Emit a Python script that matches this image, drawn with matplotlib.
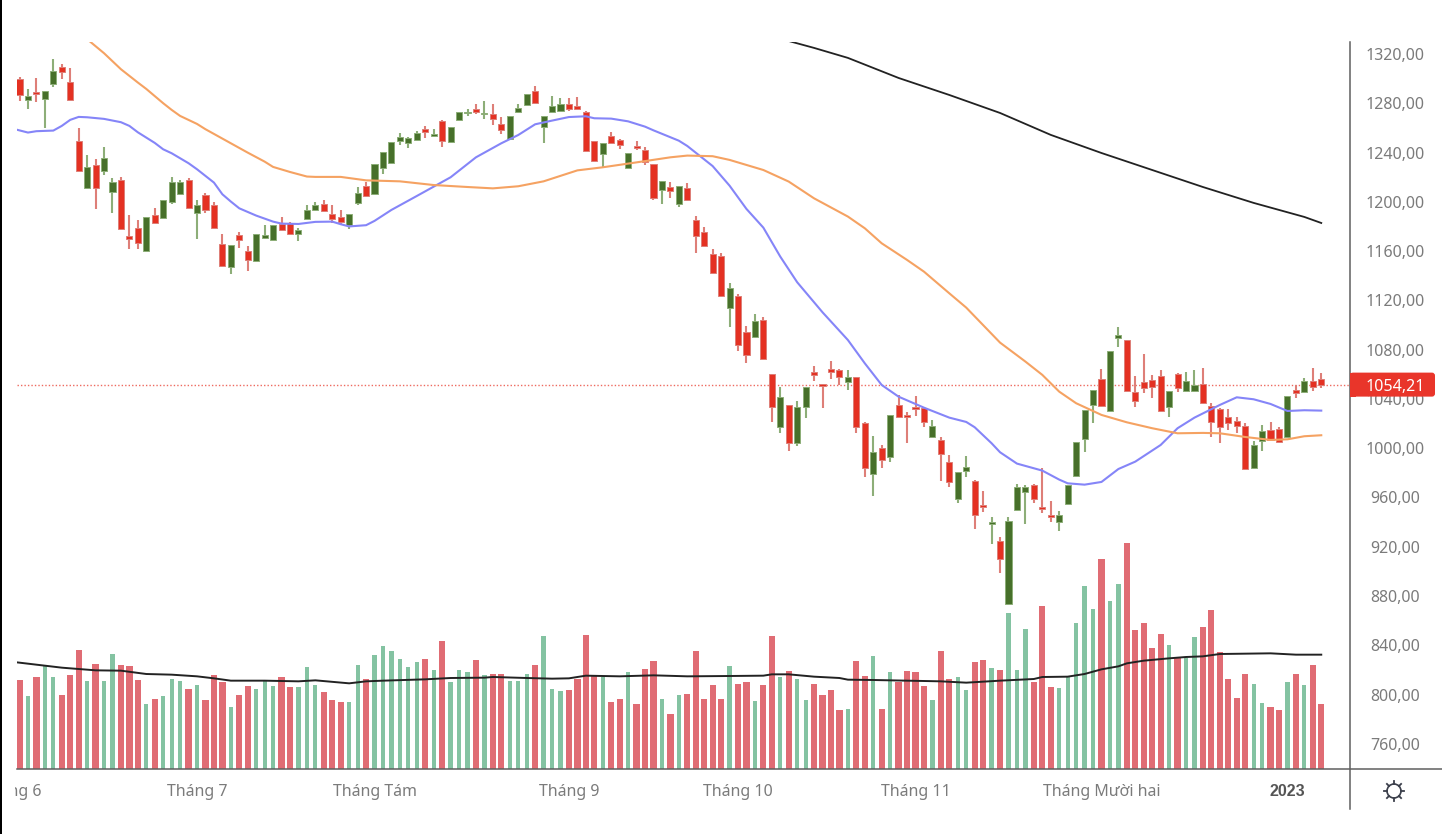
import matplotlib
matplotlib.use("Agg")
import matplotlib.pyplot as plt
from matplotlib.patches import Rectangle, Circle, FancyBboxPatch
from matplotlib.lines import Line2D
from matplotlib.transforms import Bbox, IdentityTransform, TransformedBbox
import numpy as np

# Candles, one session per entry
opens = [1299.5,1282.4,1289.5,1283.2,1295.4,1309.8,1297.3,1249.7,1211.3,1229.7,
         1224.8,1208.3,1217.5,1172.0,1179.1,1159.8,1189.1,1187.2,1200.2,1206.4,
         1217.5,1191.2,1205.3,1197.2,1165.8,1146.9,1172.8,1159.8,1151.7,1170.9,
         1169.0,1182.0,1182.8,1174.2,1186.1,1193.1,1198.3,1190.1,1187.7,1181.2,
         1199.3,1213.1,1206.6,1227.7,1231.8,1249.6,1247.7,1249.9,1259.1,1253.7,
         1265.9,1248.8,1266.1,1272.1,1275.1,1271.3,1271.0,1262.9,1251.0,1273.2,
         1278.3,1290.2,1261.0,1273.2,1274.0,1279.1,1278.0,1272.9,1249.6,1238.8,
         1253.7,1249.9,1227.7,1245.6,1241.8,1230.7,1209.6,1212.3,1198.2,1211.2,
         1185.0,1175.8,1157.7,1155.8,1113.5,1123.3,1094.1,1090.3,1103.8,1060.5,
         1017.2,1035.1,1003.9,1033.4,1061.6,1052.4,1064.6,1063.8,1053.7,1057.5,
         1020.2,978.8,999.9,992.9,1035.1,1027.2,1033.4,1032.4,1009.1,1006.9,
         988.8,958.5,981.5,973.4,953.6,938.5,925.0,873.5,949.9,964.5,
         970.4,952.0,946.1,940.4,954.5,977.7,1007.2,1035.4,1056.5,1030.0,
         1089.2,1087.9,1045.4,1053.5,1055.4,1058.4,1033.2,1060.5,1046.7,1046.5,
         1052.4,1034.0,1032.1,1025.4,1022.1,1018.0,983.7,1006.1,1014.8,1015.9,
         1009.1,1047.5,1045.4,1054.3,1056.5]
highs = [1301.6,1291.3,1300.6,1290.3,1315.7,1311.6,1308.4,1259.7,1237.8,1234.5,
         1244.8,1219.1,1220.5,1189.1,1185.0,1188.0,1195.3,1201.5,1220.5,1217.7,
         1219.4,1201.5,1206.9,1200.2,1173.9,1165.0,1175.8,1163.9,1173.9,1180.9,
         1180.9,1188.0,1183.7,1179.1,1197.2,1200.2,1201.2,1197.2,1193.4,1189.9,
         1212.3,1216.3,1230.4,1240.7,1248.8,1255.6,1252.3,1257.8,1261.8,1258.8,
         1266.4,1261.0,1273.2,1275.1,1279.4,1282.1,1279.1,1268.8,1269.9,1279.1,
         1287.5,1294.3,1269.9,1286.2,1284.0,1284.0,1285.1,1274.0,1249.6,1247.7,
         1256.9,1251.0,1239.6,1249.6,1244.8,1230.7,1217.2,1216.1,1213.1,1215.0,
         1188.8,1179.8,1161.4,1158.7,1134.4,1125.2,1099.2,1109.2,1106.2,1060.5,
         1049.4,1035.1,1038.0,1049.4,1066.7,1052.4,1070.8,1064.6,1063.5,1057.5,
         1021.3,1009.9,1002.9,1027.0,1043.2,1029.4,1042.1,1033.4,1023.2,1008.8,
         994.8,980.7,993.7,974.2,965.3,943.9,927.7,943.9,971.2,970.4,
         971.2,983.7,957.2,949.0,970.4,1004.8,1031.0,1047.3,1064.6,1078.7,
         1098.1,1087.9,1058.4,1076.8,1059.4,1063.5,1046.5,1060.8,1061.6,1063.5,
         1064.9,1037.0,1032.4,1032.1,1025.1,1020.8,1006.1,1018.9,1021.0,1017.0,
         1042.4,1051.3,1056.7,1064.9,1060.8]
lows = [1282.1,1275.4,1281.3,1260.0,1293.5,1299.5,1282.4,1224.8,1210.7,1194.5,
        1221.5,1191.2,1178.2,1162.0,1162.0,1159.8,1183.1,1186.6,1198.3,1206.4,
        1195.3,1169.9,1191.2,1179.1,1146.9,1141.4,1162.8,1143.6,1151.7,1169.9,
        1169.0,1177.2,1174.2,1167.9,1186.1,1193.1,1192.3,1183.1,1181.8,1177.7,
        1197.4,1204.4,1206.6,1222.6,1231.8,1246.1,1243.7,1249.9,1251.8,1252.9,
        1244.8,1248.8,1266.1,1269.9,1271.0,1267.0,1262.1,1254.8,1251.0,1271.8,
        1278.3,1279.9,1248.0,1273.2,1274.0,1274.0,1275.1,1241.0,1232.9,1227.7,
        1247.7,1242.9,1227.7,1241.8,1229.6,1201.5,1198.2,1203.4,1195.5,1200.4,
        1158.2,1164.1,1142.0,1123.8,1098.1,1078.9,1068.9,1090.3,1072.1,1021.3,
        1012.1,998.0,1002.0,1024.2,1054.3,1032.4,1056.4,1051.3,1047.2,1012.1,
        976.6,961.5,983.7,988.8,1025.3,1003.9,1026.4,1017.2,1009.1,973.6,
        968.5,955.5,976.6,934.2,948.5,922.0,899.0,872.5,949.3,938.5,
        955.3,947.1,940.4,933.1,954.5,977.7,997.2,1020.2,1034.3,1029.4,
        1081.9,1046.7,1033.2,1044.6,1040.5,1030.5,1025.4,1045.9,1046.7,1045.7,
        1036.5,1009.4,1004.0,1015.1,1012.1,982.9,982.9,998.0,1006.7,1005.3,
        1009.1,1040.5,1045.4,1046.5,1049.2]
closes = [1286.5,1286.2,1287.6,1290.3,1306.5,1305.4,1282.4,1224.8,1228.6,1211.3,
          1235.6,1216.4,1178.2,1169.9,1166.9,1188.0,1183.1,1201.5,1216.4,1216.4,
          1195.3,1197.2,1193.1,1179.1,1147.7,1165.0,1169.0,1152.8,1173.9,1172.8,
          1180.9,1177.2,1174.2,1176.9,1193.1,1197.2,1192.3,1186.1,1183.4,1189.9,
          1206.9,1204.4,1230.4,1240.7,1248.8,1252.9,1251.8,1255.9,1256.9,1254.8,
          1249.6,1261.0,1273.2,1273.2,1273.2,1272.1,1267.0,1258.0,1269.9,1276.2,
          1287.5,1279.9,1269.9,1278.0,1279.1,1275.1,1275.1,1241.0,1232.9,1247.7,
          1247.7,1245.8,1239.6,1243.7,1232.6,1203.1,1217.2,1208.5,1213.1,1201.2,
          1172.3,1164.1,1142.0,1123.8,1130.3,1084.1,1075.9,1103.0,1072.7,1033.4,
          1041.3,1004.2,1033.2,1049.4,1059.7,1050.2,1061.9,1057.8,1057.5,1017.2,
          983.7,996.6,990.7,1027.0,1025.3,1025.3,1031.6,1021.3,1018.0,995.0,
          972.6,980.7,984.8,945.5,952.0,940.4,910.1,940.9,968.5,968.5,
          958.5,950.4,944.2,946.1,970.4,1004.8,1031.0,1047.3,1034.3,1078.7,
          1091.9,1046.7,1038.3,1048.6,1049.4,1030.5,1046.5,1048.6,1054.6,1051.6,
          1036.5,1021.6,1017.2,1020.5,1018.3,982.9,1002.6,1014.0,1006.7,1005.3,
          1042.4,1044.6,1054.6,1049.7,1051.6]
volumes = [268,218,275,313,275,222,282,357,263,316,
           263,346,312,308,268,196,211,218,271,263,
           241,252,207,282,260,185,222,248,241,263,
           248,275,245,245,305,252,230,207,200,200,
           312,271,342,368,353,331,305,320,331,297,
           383,260,297,290,327,282,286,286,263,263,
           286,312,398,241,233,237,271,402,282,275,
           200,211,290,196,301,323,211,166,222,226,
           353,211,252,211,308,256,260,203,252,398,
           275,293,271,207,256,222,237,177,181,323,
           278,338,181,290,260,293,290,248,207,353,
           271,275,236,322,326,303,296,468,296,419,
           262,490,247,243,277,438,550,479,629,505,
           554,677,416,438,363,404,371,337,333,397,
           427,476,352,269,214,284,255,199,187,176,
           262,284,251,311,195]

# Moving averages, read at the sessions in the *_idx lists
blue_idx = [-1,1,2,4,5,6,7,8,10,12,13,14,16,17,18,20,21,23,24,25,26,28,30,31,33,35,37,38,
            39,41,42,44,47,51,54,57,59,61,63,65,67,68,70,72,74,75,78,79,
            82,84,86,88,90,92,95,98,100,102,104,107,110,112,113,115,116,118,121,123,124,
            126,128,130,132,135,137,139,142,144,146,148,150,152,154]
blue_ma = [1259.7,1256.2,1257.3,1257.8,1261.6,1266.5,1268.9,1268.6,1267.3,1264.6,1261.6,1256.4,
           1247.8,1242.6,1239.4,1231.3,1226.4,1215.6,1206.1,1200.2,1194.7,1188.8,1183.9,1182.3,
           1182.0,1183.7,1183.9,1181.8,1180.0,1181.0,1184.5,1193.4,1204.7,1219.9,1236.1,1247.5,
           1254.2,1262.9,1265.9,1268.8,1269.4,1267.8,1267.5,1265.3,1261.0,1258.0,1249.6,1245.3,
           1229.0,1213.1,1194.2,1179.0,1155.5,1134.7,1110.3,1087.8,1068.9,1051.3,1041.8,1032.9,
           1024.8,1021.3,1017.0,1004.0,996.7,987.5,981.8,974.5,971.5,970.4,972.6,983.1,989.1,
           1002.6,1016.2,1024.8,1035.1,1041.3,1039.7,1035.9,1030.2,1030.8,1030.5]
orange_idx = [8,10,12,14,15,17,18,19,21,22,24,27,29,30,32,34,35,38,41,45,49,53,56,59,62,66,69,73,77,79,
              82,84,86,88,91,94,98,100,102,105,107,110,112,116,119,121,123,125,128,131,134,137,140,
              142,145,148,150,152,154]
orange_ma = [1332.0,1320.6,1307.6,1296.8,1291.6,1280.0,1274.6,1269.7,1263.2,1258.9,1251.3,1239.9,1232.6,
             1228.3,1224.2,1220.5,1220.2,1220.2,1217.4,
             1216.6,1213.6,1212.0,1210.9,1212.6,1216.6,1225.5,1228.0,1232.0,1236.1,1237.5,
             1237.0,1234.0,1229.9,1225.8,1216.4,1202.8,1188.0,1178.5,1166.3,1152.8,1143.3,1125.7,
             1114.1,1085.7,1070.3,1059.5,1045.9,1036.5,1027.0,1021.0,1016.2,1012.1,1012.4,
             1012.1,1009.1,1006.7,1007.2,1009.7,1010.5]
long_idx = [91,94,98,104,110,116,122,128,134,140,146,152,154]
long_ma = [1330.5,1324.9,1316.8,1300.5,1286.7,1272.1,1254.3,1239.6,1225.8,1212.0,1199.1,1187.7,1182.8]
vol_ma_idx = [-1,2,5,9,12,15,18,21,23,25,29,33,35,39,41,43,48,51,55,
              56,60,63,65,67,71,75,79,84,88,89,91,94,97,98,101,105,109,
              112,116,120,121,124,126,128,130,131,133,136,138,140,142,145,148,151,154]
vol_ma = [322,313,304,296,295,285,283,278,272,265,265,263,266,257,263,265,269,273,274,
          276,273,271,272,280,278,281,278,279,280,284,284,277,273,268,267,265,263,
          259,265,270,276,277,285,299,308,317,325,332,336,338,345,346,347,343,343]

y_ticks = list(range(760, 1321, 40))
y_labels = ["%d,00" % v for v in y_ticks]
month_idx = [-1, 21, 42, 65, 85, 106, 128, 150]
month_labels = ["Tháng 6", "Tháng 7", "Tháng Tám", "Tháng 9", "Tháng 10", "Tháng 11", "Tháng Mười hai", "2023"]
last_label = "1054,21"

W, H = 1442, 834
plt.rcParams["font.family"] = ["Noto Sans", "DejaVu Sans"]
fig = plt.figure(figsize=(W / 100, H / 100), dpi=100, facecolor="white")

# plot area in pixels: x 17..1350, y 42..769
ax = fig.add_axes([17 / W, 1 - 769 / H, (1350 - 17) / W, (769 - 42) / H])
ax.set_xlim(-0.296, 157.4)
ax.set_ylim(739.6, 1329.7)
for s in ax.spines.values():
    s.set_visible(False)
ax.set_xticks([])
ax.set_yticks([])

# volume on its own scale, sharing the x axis
vax = ax.twinx()
vax.set_ylim(0, 2181)
vax.set_yticks([])
for s in vax.spines.values():
    s.set_visible(False)

x = np.arange(len(closes))
up = np.array(closes) >= np.array(opens)

vax.bar(x[up], np.array(volumes)[up], width=0.5, color="#84C3A2", linewidth=0)
vax.bar(x[~up], np.array(volumes)[~up], width=0.74, color="#E06C74", linewidth=0)
vax.plot(vol_ma_idx, vol_ma, color="#222222", lw=1.4)

ax.set_zorder(vax.get_zorder() + 1)
ax.patch.set_visible(False)

o = np.array(opens)
c = np.array(closes)
wick_col = np.where(up, "#8DAE78", "#DE7F78")
ax.vlines(x, lows, highs, colors=wick_col, lw=1.5, zorder=3)
body_col = np.where(up, "#47702A", "#E43122")
ax.bar(x, np.abs(c - o), bottom=np.minimum(o, c), width=0.72, color=body_col,
       edgecolor=wick_col, linewidth=0.7, zorder=4)

ax.plot(blue_idx, blue_ma, color="#8585F8", lw=1.5, zorder=5)
ax.plot(orange_idx, orange_ma, color="#F5A262", lw=1.5, zorder=5)
ax.plot(long_idx, long_ma, color="#222222", lw=1.3, zorder=5)

# last price line
ax.axhline(closes[-1], color="#EE6A60", lw=1, ls=(0, (1, 1.5)), zorder=2)

# frame, drawn in pixel coordinates
def px_line(x0, y0, x1, y1):
    fig.add_artist(Line2D([x0 / W, x1 / W], [1 - y0 / H, 1 - y1 / H], color="#5f5f5f", lw=1.1))

px_line(1350, 42, 1350, 809)
px_line(17, 769, W, 769)
fig.add_artist(Rectangle((0, 0), 2 / W, 1, transform=fig.transFigure, color="black", lw=0))

# price labels
for v, lab in zip(y_ticks, y_labels):
    fig.text(1395 / W, ax.transData.transform((0, v))[1] / H, lab, ha="center", va="center_baseline",
             fontsize=11.5, color="#7b7b7b")

# last price tag
tag_px = ax.transData.transform((0, closes[-1]))[1]
fig.add_artist(FancyBboxPatch((1352, tag_px - 10), 81, 20, boxstyle="round,pad=2,rounding_size=3",
                              transform=IdentityTransform(), fc="#E9352A", ec="none", zorder=6))
fig.add_artist(Rectangle((1350, tag_px - 12), 6, 24, transform=IdentityTransform(),
                         fc="#E9352A", ec="none", zorder=6))
fig.text(1395 / W, tag_px / H, last_label, ha="center", va="center_baseline", fontsize=11.5,
         color="white", zorder=7)

# month labels, cut off at the left edge of the plot
clip = TransformedBbox(Bbox([[15, 0], [1350, H]]), IdentityTransform())
for i, lab in zip(month_idx, month_labels):
    px = ax.transData.transform((i, 800))[0]
    bold = lab == "2023"
    t = fig.text(px / W, 1 - 790 / H, lab, ha="center", va="center_baseline", fontsize=11.5,
                 color="#555555" if bold else "#7b7b7b", fontweight="bold" if bold else "normal",
                 family="Liberation Sans" if bold else ["Noto Sans", "DejaVu Sans"])
    t.set_clip_box(clip)
    t.set_clip_on(True)

# settings gear
gx, gy = 1394, 791
fig.add_artist(Circle((gx, H - gy), 7, transform=IdentityTransform(), fill=False, ec="#3a3e4a", lw=1.2))
for a in np.deg2rad(np.arange(0, 360, 45) + 22.5 + 67.5):
    fig.add_artist(Line2D([gx + 7 * np.cos(a), gx + 10 * np.cos(a)],
                          [H - gy + 7 * np.sin(a), H - gy + 10 * np.sin(a)],
                          transform=IdentityTransform(), color="#3a3e4a", lw=1.3))

fig.savefig("out.png", dpi=100)
